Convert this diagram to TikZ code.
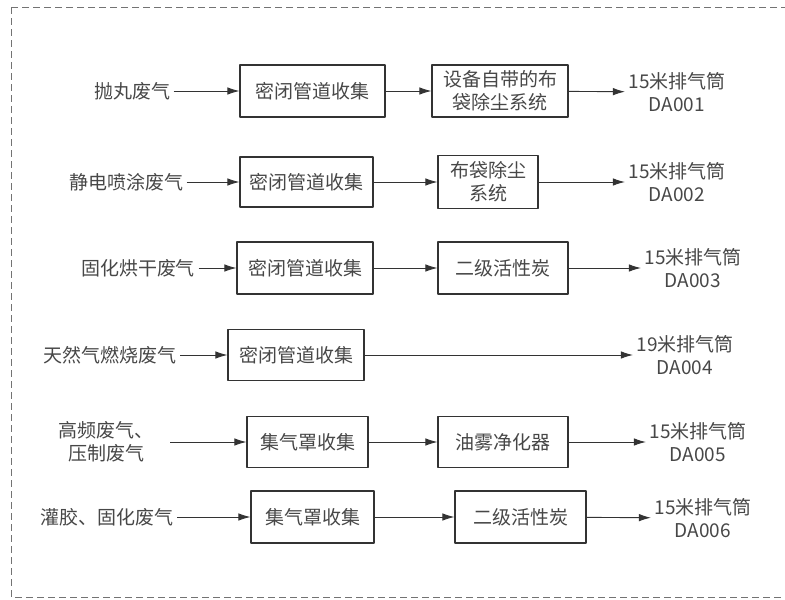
\documentclass[tikz,border=0pt]{standalone}
\usepackage{fontspec}
\newfontfamily\cjk{Noto Sans CJK SC}
\usetikzlibrary{arrows.meta}
\begin{document}
\begin{tikzpicture}[>={Latex[length=12pt,width=7.5pt]},line join=bevel,x=1pt,y=-1pt,
  every node/.style={font=\cjk\fontsize{19}{23}\selectfont,text=black!72,align=center},
  procbox/.style={draw=black!80,line width=1.1pt,inner sep=0pt},
  flow/.style={black!80,line width=0.9pt,->}]

 \useasboundingbox (0,0) rectangle (785,600);
 \draw [black!55,line width=1pt,dash pattern=on 7pt off 4pt] (11,7) rectangle (805,597);

 % row 1
 \node (src_1) at (132,91) [draw=none] {抛丸废气};
 \node (col_1) at (312.5,91) [procbox,minimum width=145,minimum height=52] {密闭管道收集};
 \node (trt_1) at (500,91) [procbox,minimum width=136,minimum height=52] {设备自带的布\\袋除尘系统};
 \node (out_1) at (677,92) [draw=none] {15米排气筒\\DA001};

 % row 2
 \node (src_2) at (126,182) [draw=none] {静电喷涂废气};
 \node (col_2) at (306.5,182) [procbox,minimum width=133,minimum height=50] {密闭管道收集};
 \node (trt_2) at (488,182) [procbox,minimum width=100,minimum height=53] {布袋除尘\\系统};
 \node (out_2) at (677,182) [draw=none] {15米排气筒\\DA002};

 % row 3
 \node (src_3) at (138,268) [draw=none] {固化烘干废气};
 \node (col_3) at (305,268) [procbox,minimum width=136,minimum height=52] {密闭管道收集};
 \node (trt_3) at (503,268) [procbox,minimum width=130,minimum height=52] {二级活性炭};
 \node (out_3) at (693,268) [draw=none] {15米排气筒\\DA003};

 % row 4
 \node (src_4) at (110,355) [draw=none] {天然气燃烧废气};
 \node (col_4) at (296,355) [procbox,minimum width=136,minimum height=51] {密闭管道收集};
 \node (out_4) at (685,355) [draw=none] {19米排气筒\\DA004};

 % row 5
 \node (src_5) at (106,442) [draw=none] {高频废气、\\压制废气};
 \node (col_5) at (307.5,442) [procbox,minimum width=121,minimum height=51] {集气罩收集};
 \node (trt_5) at (503,442) [procbox,minimum width=130,minimum height=51] {油雾净化器};
 \node (out_5) at (698,442) [draw=none] {15米排气筒\\DA005};

 % row 6
 \node (src_6) at (107,517) [draw=none] {灌胶、固化废气};
 \node (col_6) at (312.5,517) [procbox,minimum width=123,minimum height=52] {集气罩收集};
 \node (trt_6) at (520.5,517) [procbox,minimum width=131,minimum height=52] {二级活性炭};
 \node (out_6) at (703,518) [draw=none] {15米排气筒\\DA006};

  \draw [flow] (src_1) edge (col_1);
  \draw [flow] (col_1) edge (trt_1);
  \draw [flow] (trt_1) edge (out_1);
  \draw [flow] (src_2) edge (col_2);
  \draw [flow] (col_2) edge (trt_2);
  \draw [flow] (trt_2) edge (out_2);
  \draw [flow] (src_3) edge (col_3);
  \draw [flow] (col_3) edge (trt_3);
  \draw [flow] (trt_3) edge (out_3);
  \draw [flow] (src_4) edge (col_4);
  \draw [flow] (col_4) edge (out_4);
  \draw [flow,shorten <=13pt] (src_5) edge (col_5);
  \draw [flow] (col_5) edge (trt_5);
  \draw [flow] (trt_5) edge (out_5);
  \draw [flow] (src_6) edge (col_6);
  \draw [flow] (col_6) edge (trt_6);
  \draw [flow] (trt_6) edge (out_6);

\end{tikzpicture}
\end{document}
